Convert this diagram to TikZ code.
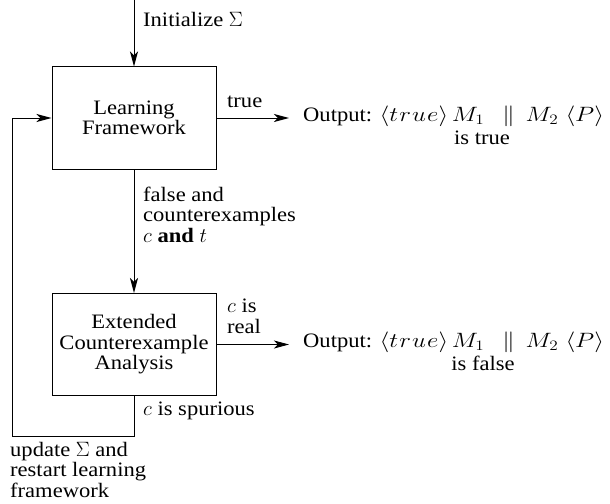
\documentclass[tikz,border=0pt]{standalone}
\usepackage{fontspec}
\setmainfont{Liberation Serif}[FakeStretch=1.1]
\usetikzlibrary{arrows.meta}
% widened math, matching the stretched text face
\newcommand{\widemath}[1]{\scalebox{1.2}[1]{\fontsize{22}{22}\selectfont$#1$}}
\newcommand{\outline}{Output: \widemath{\langle t\kern1pt r\kern1pt u\kern1pt e\rangle\kern3pt M_1\kern15pt\Vert\kern9pt M_2\kern6pt\langle P\rangle}}
\begin{document}
\begin{tikzpicture}[x=1pt,y=-1pt,
  every node/.style={font=\fontsize{20.5}{20.5}\selectfont, inner sep=0pt},
  block/.style={draw, line width=1pt, minimum width=164pt, minimum height=102pt, align=center},
  lbl/.style={anchor=base west, align=left},
  outtxt/.style={anchor=base west, inner xsep=14pt},
  arr/.style={line width=1pt, -{Stealth[length=15pt,width=8pt,inset=4pt]}},
  wire/.style={line width=1pt}]
\useasboundingbox (0,0) rectangle (610,503);

% blocks
\node[block] (lf) at (134,118) {Learning\\Framework};
\node[block] (eca) at (134,344.5) {Extended\\Counterexample\\Analysis};

% outputs
\node[outtxt] (o1) at (289,121) {\outline};
\node[anchor=base] (o1b) at (482,144) {is true};
\node[outtxt] (o2) at (289,347) {\outline};
\node[anchor=base] (o2b) at (483,370) {is false};

% connectors
\coordinate (start) at (134,0);
\coordinate (fb) at (12,436);
\draw[arr] (start) -- (lf);
\draw[arr] (lf.east) -- (lf.east -| o1.west);
\draw[arr] (lf) -- (eca);
\draw[arr] (eca.east) -- (eca.east -| o2.west);
\draw[arr] (eca.south) |- (fb) |- (lf.west);

% labels
\node[lbl] (l1) at (143,27) {Initialize $\Sigma$};
\node[lbl] (l2) at (227,107) {true};
\node[lbl] (l3) at (143,242) {false and\\counterexamples\\$c$ \textbf{and} $t$};
\node[lbl] (l4) at (227,333) {$c$ is\\real};
\node[lbl] (l5) at (143,415) {$c$ is spurious};
\node[lbl] (l6) at (10,497) {update $\Sigma$ and\\restart learning\\framework};
\end{tikzpicture}
\end{document}
